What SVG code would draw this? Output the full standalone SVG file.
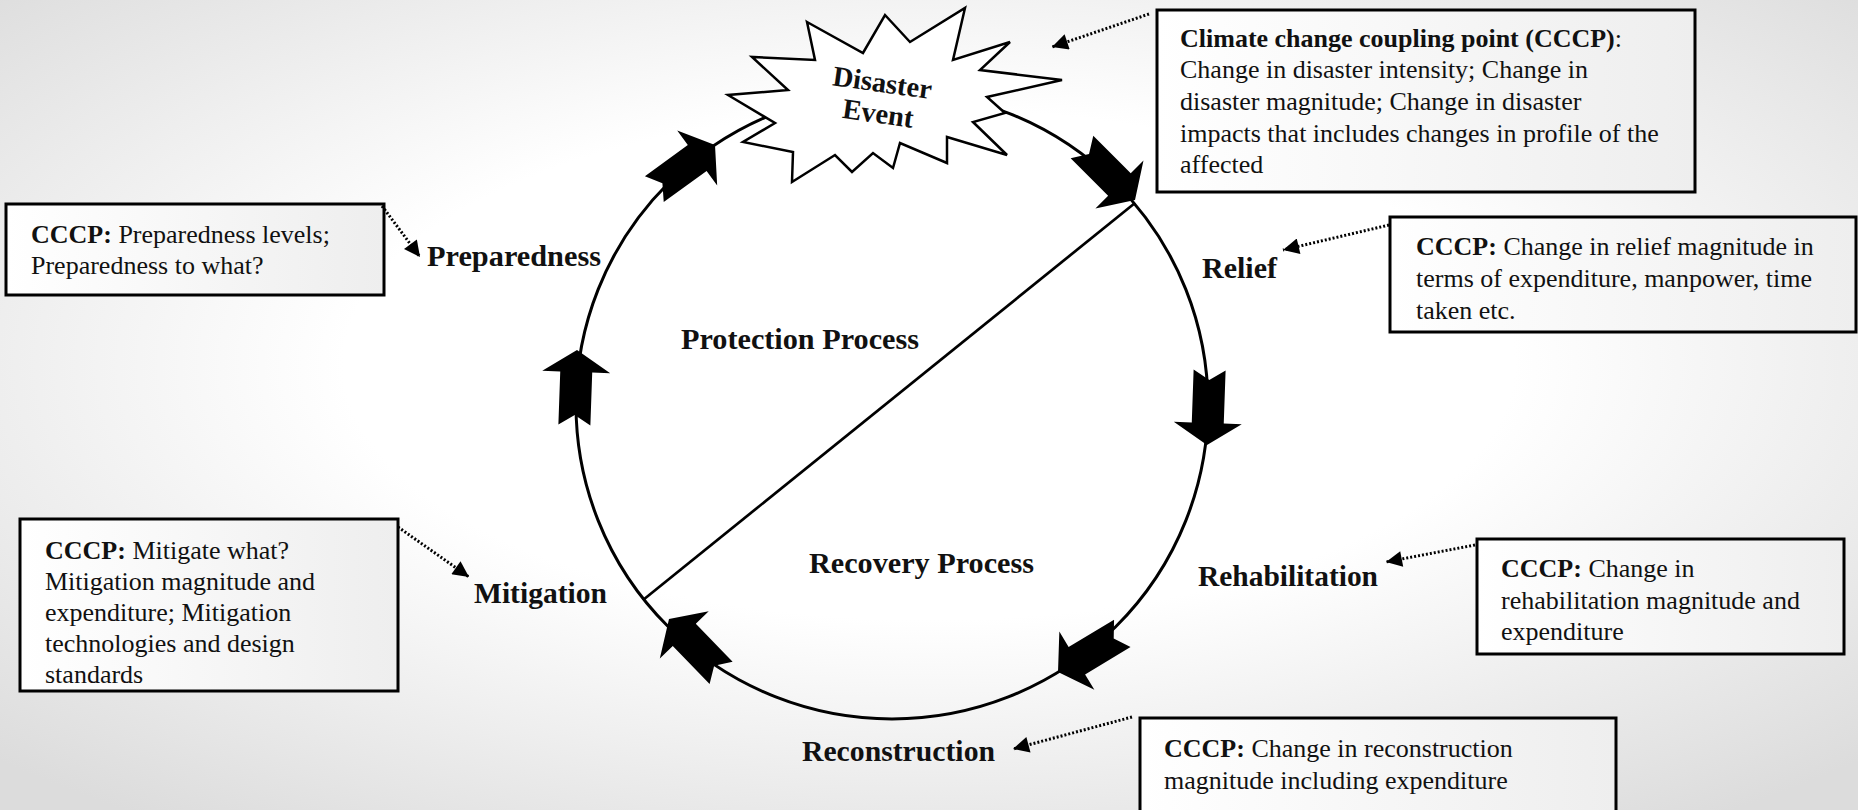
<svg xmlns="http://www.w3.org/2000/svg" width="1858" height="810" viewBox="0 0 1858 810">
<defs>
  <radialGradient id="bg" cx="50%" cy="45%" r="70%">
    <stop offset="0.45" stop-color="#ffffff"/>
    <stop offset="1" stop-color="#dcdcdc"/>
  </radialGradient>
  <linearGradient id="boxfill" x1="0" y1="0" x2="1" y2="0">
    <stop offset="0" stop-color="#ffffff"/>
    <stop offset="1" stop-color="#eeeeee"/>
  </linearGradient>
  <marker id="ah" viewBox="0 0 10 10" markerUnits="userSpaceOnUse" markerWidth="18" markerHeight="16" refX="10" refY="5" orient="auto">
    <path d="M0,0 L10,5 L0,10 z" fill="#000"/>
  </marker>
  <polygon id="blk" points="0,0 -22,-34 -22,-16 -75,-16 -65,0 -75,16 -22,16 -22,34" fill="#000"/>
  <style>
    .box { fill: url(#boxfill); stroke: #000; stroke-width: 3; }
    .t { font-family: "Liberation Serif", "Times New Roman", serif; font-size: 26px; fill: #111; }
    .b { font-weight: bold; }
    .lbl { font-family: "Liberation Serif", "Times New Roman", serif; font-size: 28.5px; font-weight: bold; fill: #111; }
    .dot { fill: none; stroke: #000; stroke-width: 3; stroke-dasharray: 2 2; }
    .ring { fill: none; stroke: #000; stroke-width: 3; }
  </style>
</defs>
<rect width="1858" height="810" fill="url(#bg)"/>

<g id="cycle">
  <ellipse class="ring" cx="892" cy="405" rx="316" ry="314"/>
  <line x1="1135" y1="203" x2="643" y2="600" stroke="#000" stroke-width="2.7"/>
</g>

<g id="flow-arrows">
  <use href="#blk" transform="translate(715,145) rotate(-36)"/>
  <use href="#blk" transform="translate(1135,200) rotate(45)"/>
  <use href="#blk" transform="translate(1207,445) rotate(92)"/>
  <use href="#blk" transform="translate(1058,672) rotate(149)"/>
  <use href="#blk" transform="translate(669,619) rotate(-134)"/>
  <use href="#blk" transform="translate(577,350) rotate(-88)"/>
</g>

<g id="disaster-event">
  <polygon points="807,22 863,53 885,15 910,42 965,8 953,60 1010,42 980,70 1062,80 987,97 1005,113 973,122 1007,155 947,137 947,163 900,143 893,168 873,153 852,172 835,155 792,182 793,152 743,142 775,123 728,95 788,90 752,57 815,60" fill="#fff" stroke="#000" stroke-width="2.5" stroke-linejoin="miter"/>
  <g transform="rotate(8 880 100)">
    <text class="lbl" x="880" y="92" text-anchor="middle" font-size="23">Disaster</text>
    <text class="lbl" x="880" y="123" text-anchor="middle" font-size="23">Event</text>
  </g>
</g>

<g id="labels">
  <text class="lbl" x="427" y="266" textLength="174" lengthAdjust="spacingAndGlyphs">Preparedness</text>
  <text class="lbl" x="1202" y="278" textLength="75" lengthAdjust="spacingAndGlyphs">Relief</text>
  <text class="lbl" x="1198" y="586" textLength="180" lengthAdjust="spacingAndGlyphs">Rehabilitation</text>
  <text class="lbl" x="802" y="761" textLength="193" lengthAdjust="spacingAndGlyphs">Reconstruction</text>
  <text class="lbl" x="474" y="603" textLength="133" lengthAdjust="spacingAndGlyphs">Mitigation</text>
  <text class="lbl" x="681" y="349" textLength="238" lengthAdjust="spacingAndGlyphs">Protection Process</text>
  <text class="lbl" x="809" y="573" textLength="225" lengthAdjust="spacingAndGlyphs">Recovery Process</text>
</g>

<g id="box-disaster">
  <rect class="box" x="1157" y="10" width="538" height="182"/>
  <text class="t" x="1180" y="47"><tspan class="b">Climate change coupling point (CCCP)</tspan>:</text>
  <text class="t" x="1180" y="78">Change in disaster intensity; Change in</text>
  <text class="t" x="1180" y="110">disaster magnitude; Change in disaster</text>
  <text class="t" x="1180" y="142">impacts that includes changes in profile of the</text>
  <text class="t" x="1180" y="173">affected</text>
</g>

<g id="box-preparedness">
  <rect class="box" x="6" y="204" width="378" height="91"/>
  <text class="t" x="31" y="243"><tspan class="b">CCCP:</tspan> Preparedness levels;</text>
  <text class="t" x="31" y="274">Preparedness to what?</text>
</g>

<g id="box-relief">
  <rect class="box" x="1390" y="217" width="466" height="115"/>
  <text class="t" x="1416" y="255"><tspan class="b">CCCP:</tspan> Change in relief magnitude in</text>
  <text class="t" x="1416" y="287">terms of expenditure, manpower, time</text>
  <text class="t" x="1416" y="319">taken etc.</text>
</g>

<g id="box-mitigation">
  <rect class="box" x="20" y="519" width="378" height="172"/>
  <text class="t" x="45" y="559"><tspan class="b">CCCP:</tspan> Mitigate what?</text>
  <text class="t" x="45" y="590">Mitigation magnitude and</text>
  <text class="t" x="45" y="621">expenditure; Mitigation</text>
  <text class="t" x="45" y="652">technologies and design</text>
  <text class="t" x="45" y="683">standards</text>
</g>

<g id="box-rehabilitation">
  <rect class="box" x="1477" y="539" width="367" height="115"/>
  <text class="t" x="1501" y="577"><tspan class="b">CCCP:</tspan> Change in</text>
  <text class="t" x="1501" y="609">rehabilitation magnitude and</text>
  <text class="t" x="1501" y="640">expenditure</text>
</g>

<g id="box-reconstruction">
  <rect class="box" x="1140" y="718" width="476" height="100"/>
  <text class="t" x="1164" y="757"><tspan class="b">CCCP:</tspan> Change in reconstruction</text>
  <text class="t" x="1164" y="789">magnitude including expenditure</text>
</g>

<g id="connectors">
  <path class="dot" d="M1149,14 L1052,47" marker-end="url(#ah)"/>
  <path class="dot" d="M382,206 L420,257" marker-end="url(#ah)"/>
  <path class="dot" d="M1389,225 L1283,250" marker-end="url(#ah)"/>
  <path class="dot" d="M398,527 L469,577" marker-end="url(#ah)"/>
  <path class="dot" d="M1475,545 L1386,562" marker-end="url(#ah)"/>
  <path class="dot" d="M1132,717 L1013,749" marker-end="url(#ah)"/>
</g>
</svg>
